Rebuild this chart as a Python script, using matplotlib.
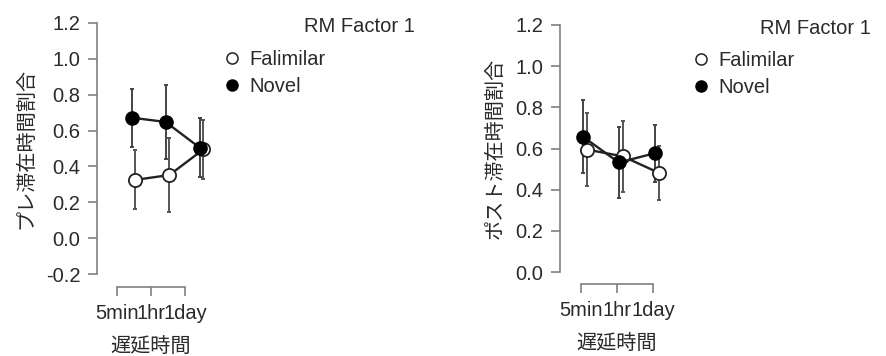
import matplotlib
matplotlib.use("Agg")
import matplotlib.pyplot as plt
from matplotlib.lines import Line2D
import numpy as np

plt.rcParams['font.family'] = ['Liberation Sans', 'Noto Sans CJK JP', 'DejaVu Sans']

categories = ["5min", "1hr", "1day"]
series_names = ["Falimilar", "Novel"]

# Left panel (pre)
pre_familiar = [0.325, 0.352, 0.495]
pre_familiar_err = [0.165, 0.205, 0.165]
pre_novel = [0.672, 0.648, 0.505]
pre_novel_err = [0.162, 0.205, 0.165]

# Right panel (post)
post_familiar = [0.595, 0.562, 0.482]
post_familiar_err = [0.177, 0.172, 0.132]
post_novel = [0.658, 0.532, 0.577]
post_novel_err = [0.178, 0.171, 0.138]

pre_yticks = [-0.2, 0.0, 0.2, 0.4, 0.6, 0.8, 1.0, 1.2]
post_yticks = [0.0, 0.2, 0.4, 0.6, 0.8, 1.0, 1.2]

W, H = 886, 356
DPI = 100
fig = plt.figure(figsize=(W / DPI, H / DPI), dpi=DPI)

TXT = "#2a2a2a"
AX = "#808080"
FS = 14.5
FS_CJK = 14.5


def px_axes(x0, y_top, x1, y_bot):
    return fig.add_axes([x0 / W, 1 - y_bot / H, (x1 - x0) / W, (y_bot - y_top) / H])


def draw_panel(ax, fam, fam_err, nov, nov_err, yticks, ylabel, off_nov, off_fam,
               xlim, out_px, legend_xy, title_xy):
    x = np.arange(len(categories))
    ax.set_xlim(*xlim)
    ax.set_ylim(yticks[0], yticks[-1])
    ax.errorbar(x + off_fam, fam, yerr=fam_err, fmt='none', ecolor='#555555',
                elinewidth=1.4, capsize=1.5, capthick=1.4, clip_on=False, zorder=2)
    ax.errorbar(x + off_nov, nov, yerr=nov_err, fmt='none', ecolor='#444444',
                elinewidth=1.4, capsize=1.5, capthick=1.4, clip_on=False, zorder=2)
    ax.plot(x + off_fam, fam, '-', color='#222222', lw=1.7, marker='o',
            markersize=9.5, markerfacecolor='white', markeredgecolor='#222222',
            markeredgewidth=1.3, clip_on=False, zorder=3)
    ax.plot(x + off_nov, nov, '-', color='#222222', lw=1.7, marker='o',
            markersize=9.5, markerfacecolor='black', markeredgecolor='black',
            clip_on=False, zorder=4)

    for s in ['top', 'right']:
        ax.spines[s].set_visible(False)
    ax.spines['left'].set_bounds(yticks[0], yticks[-1])
    ax.spines['bottom'].set_bounds(0, len(categories) - 1)
    ax.spines['bottom'].set_position(('outward', out_px * 72 / DPI))
    for s in ['left', 'bottom']:
        ax.spines[s].set_color(AX)
        ax.spines[s].set_linewidth(1.2)
    ax.set_yticks(yticks)
    ax.set_yticklabels([f"{v:.1f}" for v in yticks])
    ax.set_xticks(x)
    ax.set_xticklabels(categories)
    ax.tick_params(axis='both', colors=AX, labelcolor=TXT, labelsize=FS,
                   length=6.5, width=1.2, direction='out')
    ax.tick_params(axis='y', pad=5.5)
    ax.tick_params(axis='x', pad=6)
    ax.set_ylabel(ylabel, fontsize=FS_CJK, color=TXT, labelpad=7,
                  family=['Noto Sans CJK JP'])
    ax.set_xlabel("遅延時間", fontsize=FS_CJK, color=TXT,
                  family=['Noto Sans CJK JP'])

    handles = [
        Line2D([], [], ls='none', marker='o', markersize=8, markerfacecolor='white',
               markeredgecolor='#222222', markeredgewidth=1.1),
        Line2D([], [], ls='none', marker='o', markersize=8, markerfacecolor='black',
               markeredgecolor='black'),
    ]
    ax.legend(handles, series_names, loc='upper left',
              bbox_to_anchor=(legend_xy[0] / W, 1 - legend_xy[1] / H),
              bbox_transform=fig.transFigure, frameon=False, fontsize=FS,
              handlelength=0.7, handletextpad=0.5, labelspacing=0.4,
              borderpad=0, borderaxespad=0, labelcolor=TXT)
    fig.text(title_xy[0] / W, 1 - title_xy[1] / H, "RM Factor 1", fontsize=FS,
             color=TXT, ha='right', va='center')

    return xlim


xl1 = ((97 - 117) / 34, (215 - 117) / 34)
ax1 = px_axes(97, 23, 215, 274)
draw_panel(ax1, pre_familiar, pre_familiar_err, pre_novel, pre_novel_err,
           pre_yticks, "プレ滞在時間割合", 0.43, 0.54, xl1, 13, (225, 50), (415, 27))

xl2 = ((560 - 581) / 36, (690 - 581) / 36)
ax2 = px_axes(560, 25, 690, 272)
draw_panel(ax2, post_familiar, post_familiar_err, post_novel, post_novel_err,
           post_yticks, "ポスト滞在時間割合", 0.05, 0.16, xl2, 12, (694, 51), (871, 28))

for ax, xl, ypx in [(ax1, xl1, 346), (ax2, xl2, 343)]:
    bb = ax.get_position()
    xfrac = (1 - xl[0]) / (xl[1] - xl[0])
    yfrac = ((1 - ypx / H) - bb.y0) / bb.height
    ax.xaxis.set_label_coords(xfrac, yfrac)
    ax.xaxis.label.set_va('center')

fig.savefig("out.png", dpi=DPI, facecolor='white')
